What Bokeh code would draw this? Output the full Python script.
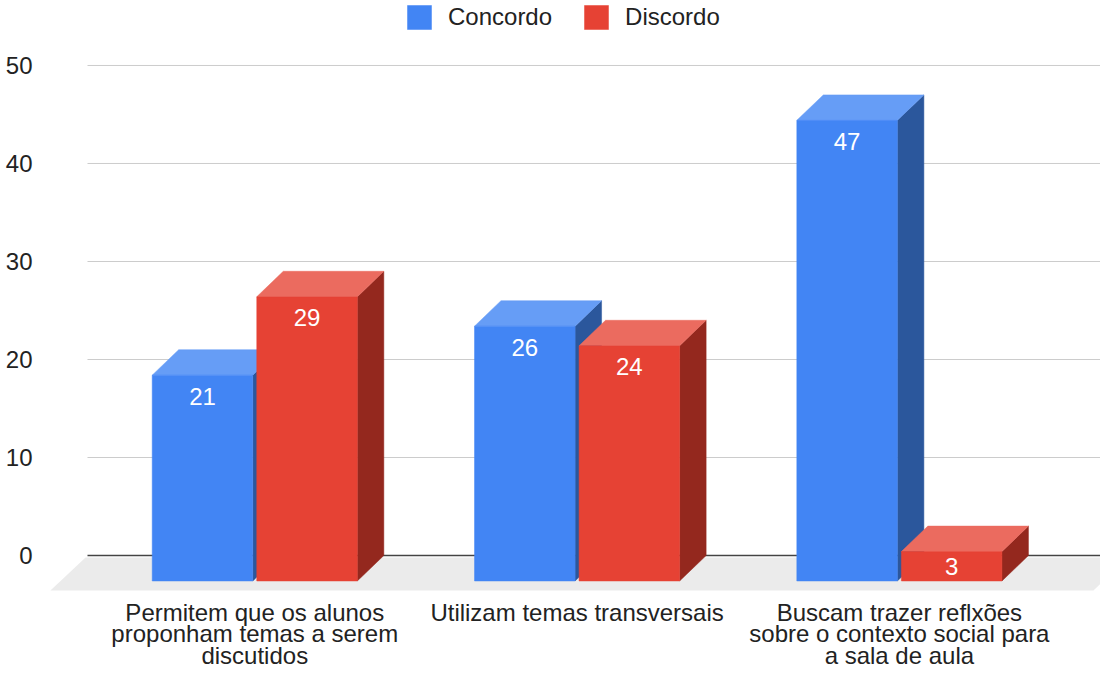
from bokeh.plotting import figure
from bokeh.models import Range1d, FixedTicker, Legend, LegendItem
from bokeh.embed import file_html
from bokeh.resources import INLINE
from bokeh.core.properties import value

# ---------------- data ----------------
categories = [
    "Permitem que os alunos\nproponham temas a serem\ndiscutidos",
    "Utilizam temas transversais",
    "Buscam trazer reflxões\nsobre o contexto social para\na sala de aula",
]
series_names = ["Concordo", "Discordo"]
concordo = [21, 26, 47]
discordo = [29, 24, 3]
y_ticks = [0, 10, 20, 30, 40, 50]

# ---------------- style ----------------
W, H = 1100, 668
FONT = "Liberation Sans"
BW = 0.312      # bar width (group units)
GAP = 0.0124    # gap between bars of a group
DX = 0.0822     # 3D depth, x (group units)
DY = 2.6        # 3D depth, y (value units)
FRONT = {"Concordo": "#4285F4", "Discordo": "#E64234"}
TOP = {"Concordo": "#669DF6", "Discordo": "#EB6B5F"}
SIDE = {"Concordo": "#2B579C", "Discordo": "#94281E"}

n = len(categories)
p = figure(width=W, height=H, output_backend="svg", toolbar_location=None,
           x_range=Range1d(-0.640, 2.624), y_range=Range1d(-11.53, 56.63))
p.min_border_left = 48
p.min_border_right = 0
p.min_border_top = 0
p.min_border_bottom = 0
p.outline_line_color = None
p.xaxis.visible = False
p.xgrid.visible = False
p.ygrid.visible = False
p.background_fill_color = "white"
p.border_fill_color = "white"

ax = p.yaxis[0]
ax.ticker = FixedTicker(ticks=y_ticks)
ax.axis_line_color = None
ax.major_tick_line_color = None
ax.minor_tick_line_color = None
ax.major_label_standoff = 10
ax.major_label_text_font = FONT
ax.major_label_text_font_size = "24px"
ax.major_label_text_color = "#222222"

# gridlines on the back wall
grid_x0 = -0.519
grid_x1 = 2.75
nz = [t for t in y_ticks if t != 0]
p.segment(x0=[grid_x0] * len(nz), x1=[grid_x1] * len(nz), y0=nz, y1=nz,
          line_color="#CCCCCC", line_width=1)

# floor
floor_front = -3.57
floor_back = -0.2
p.patch(x=[-0.634, (n - 1) + 0.602, (n - 1) + 0.711, -0.525],
        y=[floor_front, floor_front, floor_back, floor_back],
        fill_color="#EBEBEB", line_color=None)

# zero line
p.segment(x0=[grid_x0], x1=[grid_x1], y0=[0], y1=[0], line_color="#444444", line_width=1.6)

legend_items = []
label_x, label_y, label_t = [], [], []
for s, (name, vals) in enumerate(zip(series_names, [concordo, discordo])):
    left, right, bottom, top = [], [], [], []
    tx, ty, sx, sy = [], [], [], []
    for i, v in enumerate(vals):
        l = i - GAP / 2 - BW if s == 0 else i + GAP / 2
        r = l + BW
        b = -DY
        t = v - DY
        left.append(l); right.append(r); bottom.append(b); top.append(t)
        tx.append([l, r, r + DX, l + DX]); ty.append([t, t, v, v])
        sx.append([r, r + DX, r + DX, r]); sy.append([b, 0, v, t])
        label_x.append((l + r) / 2)
        label_y.append(t - min(2.14, v / 2))
        label_t.append(str(v))
    p.patches(xs=sx, ys=sy, fill_color=SIDE[name], line_color=SIDE[name], line_width=0.5)
    p.patches(xs=tx, ys=ty, fill_color=TOP[name], line_color=TOP[name], line_width=0.5)
    q = p.quad(left=left, right=right, bottom=bottom, top=top,
               fill_color=FRONT[name], line_color=FRONT[name], line_width=0.5)
    legend_items.append(LegendItem(label=name, renderers=[q]))

p.text(x=label_x, y=label_y, text=label_t, text_color="white",
       text_font=value(FONT), text_font_size="24px",
       text_align="center", text_baseline="middle")

# category labels
p.text(x=list(range(n)), y=[-4.39] * n, text=categories, text_color="#222222",
       text_font=value(FONT), text_font_size="24px", text_line_height=0.80,
       text_align="center", text_baseline="top")

legend = Legend(items=legend_items, orientation="horizontal", location=(356, 636),
                glyph_width=30, glyph_height=30, label_standoff=14, spacing=29,
                padding=0, margin=0, border_line_color=None, background_fill_alpha=0,
                label_text_font=FONT, label_text_font_size="24px",
                label_text_color="#222222")
p.add_layout(legend)

open("out.html", "w").write(file_html(p, INLINE))
